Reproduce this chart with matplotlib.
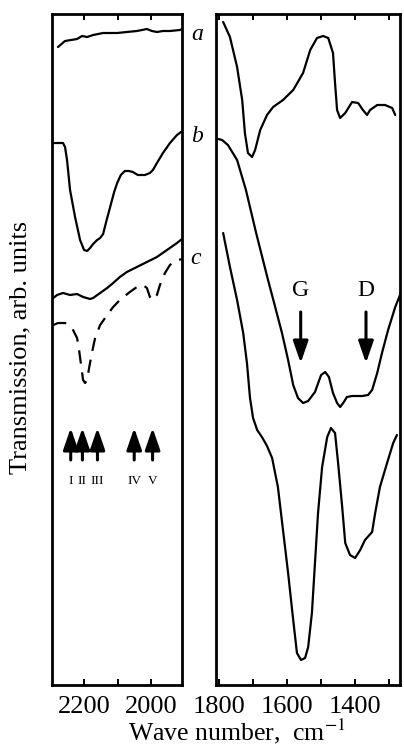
import matplotlib
matplotlib.use('Agg')
import matplotlib.pyplot as plt

plt.rcParams['font.family'] = ['Liberation Serif', 'DejaVu Serif']
plt.rcParams['mathtext.fontset'] = 'stix'

# ---------------- data: left panel (2300-1900 cm^-1) ----------------
a_left_x = [2278, 2257, 2221, 2206, 2191, 2173, 2143, 2122, 2101, 2072, 2042, 2012, 1997, 1982, 1964, 1943, 1913, 1907]
a_left_y = [638, 644, 646, 649, 648, 650, 652, 652, 652, 653, 654, 656, 654, 653, 654, 654, 655, 656]

b_left_x = [2292, 2263, 2257, 2251, 2242, 2227, 2212, 2200, 2191, 2182, 2173, 2161, 2152, 2143, 2134,
            2122, 2110, 2101, 2090, 2078, 2066, 2054, 2039, 2018, 2003, 1994, 1982, 1964, 1943, 1922, 1910]
b_left_y = [542, 542, 538, 525, 495, 468, 445, 435, 434, 437, 441, 445, 447, 451, 463,
            478, 493, 502, 510, 514, 514, 513, 510, 510, 512, 515, 522, 532, 542, 550, 553]

c_left_x = [2292, 2281, 2263, 2242, 2221, 2203, 2182, 2173, 2152, 2131, 2113, 2093, 2072, 2042, 2012,
            1982, 1952, 1922, 1907]
c_left_y = [387, 390, 392, 390, 391, 388, 386, 387, 392, 397, 402, 408, 413, 418, 423,
            428, 435, 442, 446]

c2_left_x = [2292, 2278, 2257, 2236, 2221, 2215, 2209, 2203, 2197, 2191, 2185, 2176, 2167, 2152, 2131,
             2113, 2093, 2063, 2042, 2024, 2012, 2003, 1994, 1982, 1973, 1958, 1943, 1928, 1907]
c2_left_y = [360, 362, 362, 357, 347, 335, 320, 305, 302, 305, 317, 333, 347, 360, 370,
             378, 385, 393, 398, 400, 397, 388, 385, 390, 400, 412, 420, 424, 426]

band_pos = [2240, 2205, 2160, 2050, 1995]
band_lab = ['I', 'II', 'III', 'IV', 'V']

# ---------------- data: right panel (1800-1260 cm^-1) ----------------
a_right_x = [1788, 1768, 1747, 1732, 1724, 1715, 1703, 1694, 1679, 1659, 1641, 1612, 1582, 1553, 1532,
             1512, 1494, 1479, 1465, 1459, 1453, 1444, 1429, 1409, 1391, 1377, 1365, 1356, 1335, 1312, 1291, 1282]
a_right_y = [663, 648, 618, 585, 552, 532, 528, 535, 555, 570, 578, 585, 595, 612, 635,
             647, 649, 647, 632, 602, 575, 567, 572, 583, 582, 575, 570, 575, 580, 580, 577, 570]

b_right_x = [1803, 1791, 1774, 1747, 1721, 1691, 1656, 1635, 1615, 1597, 1582, 1568, 1553, 1538, 1518,
             1500, 1488, 1477, 1465, 1453, 1444, 1435, 1424, 1409, 1379, 1362, 1350, 1335, 1321, 1303, 1282, 1262]
b_right_y = [546, 545, 540, 525, 495, 452, 405, 378, 352, 325, 300, 287, 282, 284, 293,
             310, 313, 308, 292, 282, 278, 282, 288, 289, 289, 290, 295, 312, 332, 355, 378, 395]

c_right_x = [1788, 1768, 1747, 1729, 1718, 1709, 1700, 1688, 1674, 1659, 1644, 1627, 1612, 1597, 1582,
             1571, 1559, 1547, 1538, 1527, 1518, 1509, 1497, 1482, 1471, 1459, 1450, 1438, 1429, 1415,
             1400, 1385, 1371, 1350, 1341, 1327, 1306, 1288, 1277]
c_right_y = [452, 418, 385, 352, 322, 287, 267, 255, 248, 239, 227, 198, 155, 112, 65,
             32, 25, 27, 38, 72, 122, 172, 218, 248, 257, 252, 222, 178, 142, 130,
             127, 135, 145, 153, 172, 198, 222, 242, 250]

gd_pos = [1560, 1368]
gd_lab = ['G', 'D']

W, H = 404, 749
fig = plt.figure(figsize=(W / 100, H / 100), dpi=100)
axL = fig.add_axes([52 / W, 64 / H, 130 / W, 671 / H])
axR = fig.add_axes([216 / W, 64 / H, 184 / W, 671 / H])

lw = 1.6
kw = dict(color='black', lw=lw, solid_capstyle='round', solid_joinstyle='round')
axL.plot(a_left_x, a_left_y, **kw)
axL.plot(b_left_x, b_left_y, **kw)
axL.plot(c_left_x, c_left_y, **kw)
axL.plot(c2_left_x, c2_left_y, color='black', lw=lw, linestyle=(0, (6, 4)))
axR.plot(a_right_x, a_right_y, **kw)
axR.plot(b_right_x, b_right_y, **kw)
axR.plot(c_right_x, c_right_y, **kw)

axL.set_xlim(2296, 1907)
axR.set_xlim(1809, 1268)
for ax in (axL, axR):
    ax.set_ylim(0, 671)
    ax.set_yticks([])
    for s in ax.spines.values():
        s.set_linewidth(2.0)
    ax.tick_params(axis='x', which='both', direction='in', top=True, bottom=True,
                   length=4.5, width=1.4, labelsize=19, pad=8)

axL.set_xticks([2200, 2000])
axL.set_xticks([2100], minor=True)
axR.set_xticks([1800, 1600, 1400])
axR.set_xticks([1700, 1500, 1300], minor=True)

astyle = dict(arrowstyle='-|>,head_length=1.1,head_width=0.38', mutation_scale=12,
              lw=2.2, color='black', shrinkA=0, shrinkB=0)
for x, lab in zip(band_pos, band_lab):
    axL.annotate('', xy=(x, 257), xytext=(x, 225), arrowprops=astyle)
    axL.text(x, 204, lab, ha='center', va='center', fontsize=9.5)

for x, lab in zip(gd_pos, gd_lab):
    axR.annotate('', xy=(x, 322), xytext=(x, 373), arrowprops=astyle)
    axR.text(x, 395, lab, ha='center', va='center', fontsize=17)

for lab, (px, py) in zip(['a', 'b', 'c'], [(197, 35), (197, 137), (196, 258)]):
    fig.text(px / W, 1 - py / H, lab, style='italic', fontsize=17, ha='center', va='center')

fig.text(20 / W, 1 - 347 / H, 'Transmission, arb. units', rotation=90,
         ha='center', va='center', fontsize=19)
fig.text(237 / W, 1 - 731 / H, r'Wave number,  cm$^{-1}$', ha='center', va='center', fontsize=18.5)

fig.savefig('out.png', dpi=100)
